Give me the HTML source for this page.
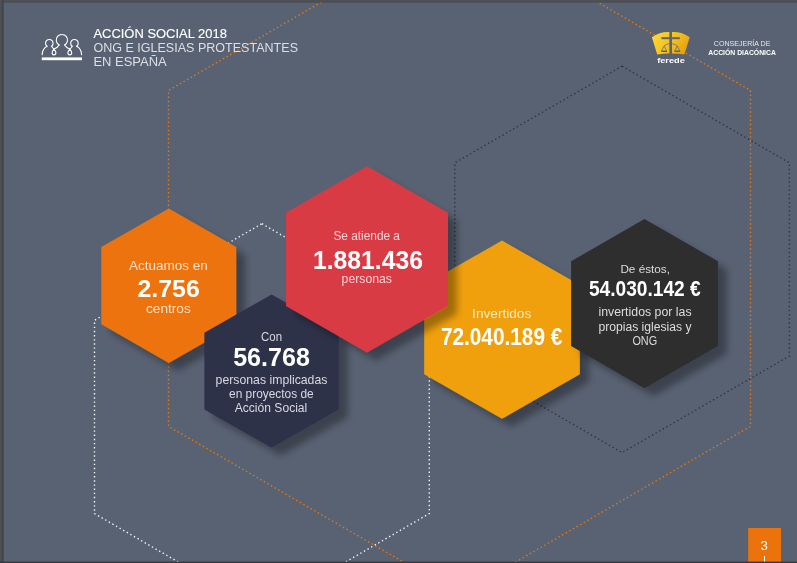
<!DOCTYPE html>
<html lang="es">
<head>
<meta charset="utf-8">
<title>Acción Social 2018</title>
<style>
html,body{margin:0;padding:0;background:#596273;}
body{width:797px;height:563px;overflow:hidden;position:relative;font-family:"Liberation Sans",sans-serif;}
svg{position:absolute;left:0;top:0;display:block;}
text{font-family:"Liberation Sans",sans-serif;}
.b{font-weight:bold;fill:#fff;}
</style>
</head>
<body>
<svg width="797" height="563" viewBox="0 0 797 563">
<defs>
<filter id="sh" x="-20%" y="-20%" width="150%" height="150%">
<feDropShadow dx="9" dy="8" stdDeviation="3.8" flood-color="#000" flood-opacity="0.33"/>
</filter>
<linearGradient id="gold" gradientUnits="userSpaceOnUse" x1="655" y1="32" x2="686" y2="56">
<stop offset="0" stop-color="#fdd835"/><stop offset="0.55" stop-color="#f2bd1c"/><stop offset="1" stop-color="#dd9a10"/>
</linearGradient>
<linearGradient id="tb" x1="0" y1="0" x2="0" y2="1"><stop offset="0" stop-color="#525355"/><stop offset="1" stop-color="#454851"/></linearGradient>
</defs>
<rect x="0" y="0" width="797" height="563" fill="#596273"/>
<polygon points="459.5,-77.6 750.5,90.4 750.5,426.4 459.5,594.4 168.5,426.4 168.5,90.4" fill="none" stroke="#e67a12" stroke-width="1.4" stroke-dasharray="1.4 2.75"/>
<polygon points="622.1,66.2 789.4,162.8 789.4,356.0 622.1,452.6 454.8,356.0 454.8,162.8" fill="none" stroke="#2f3442" stroke-width="1.4" stroke-dasharray="1.4 2.75"/>
<polygon points="261.9,223.7 429.3,320.4 429.3,513.6 261.9,610.3 94.5,513.6 94.5,320.3" fill="none" stroke="#f2f3f5" stroke-width="1.4" stroke-dasharray="1.4 2.75"/>
<g>
<path d="M651.9 37.2 Q659.9 31.5 669.6 32 L669.6 53.5 Q663 53.6 657.2 54.6 Z" fill="url(#gold)"/>
<path d="M689.7 37.2 Q681.7 31.5 672.0 32 L672.0 53.5 Q678.6 53.6 684.4 54.6 Z" fill="url(#gold)"/>
<rect x="669.6" y="31.5" width="2.4" height="22.6" fill="#5b6475"/>
<rect x="661.4" y="37.2" width="18.4" height="2" fill="#5b6475"/>
<path d="M664.1 45.6 Q670.8 41.8 677.3 45.6" fill="none" stroke="#5b6475" stroke-width="0.7"/>
<path d="M661.6 50.8 L664.1 46 L666.6 50.8 M674.8 50.8 L677.3 46 L679.8 50.8" fill="none" stroke="#5b6475" stroke-width="0.7"/>
<path d="M661.2 50.5 h5.8 v1.5 h-5.8 z M674.4 50.5 h5.8 v1.5 h-5.8 z" fill="#5b6475"/>
</g>
<text x="671.0" y="62.8" font-size="8.0" text-anchor="middle" fill="#ffffff" textLength="27.6" lengthAdjust="spacingAndGlyphs" font-weight="bold">ferede</text>
<text x="742.1" y="46.3" font-size="7.8" text-anchor="middle" fill="#e6e8ec" textLength="56.6" lengthAdjust="spacingAndGlyphs">CONSEJERÍA DE</text>
<text x="742.1" y="55.2" font-size="7.8" text-anchor="middle" fill="#ffffff" textLength="67.6" lengthAdjust="spacingAndGlyphs" font-weight="bold">ACCIÓN DIACÓNICA</text>
<polygon points="168.8,208.4 236.2,247.1 236.2,324.3 168.8,363.0 101.3,324.3 101.3,247.0" fill="#ec730b" filter="url(#sh)"/>
<polygon points="271.6,294.4 338.8,332.8 338.8,409.5 271.6,447.8 204.4,409.5 204.4,332.8" fill="#2e3048" filter="url(#sh)"/>
<polygon points="502.0,240.6 579.8,285.1 579.8,374.2 502.0,418.8 424.2,374.2 424.2,285.1" fill="#f0a00c" filter="url(#sh)"/>
<polygon points="367.0,166.2 448.0,212.8 448.0,305.9 367.0,352.5 286.0,305.9 286.0,212.8" fill="#d93b45" filter="url(#sh)"/>
<polygon points="644.5,219.1 717.9,261.3 717.9,345.9 644.5,388.2 571.1,345.9 571.1,261.3" fill="#2d2d2e" filter="url(#sh)"/>
<text x="168.4" y="270.2" font-size="13.4" text-anchor="middle" fill="#fde0c4" textLength="78.8" lengthAdjust="spacingAndGlyphs">Actuamos en</text>
<text x="168.6" y="296.8" font-size="24.6" text-anchor="middle" class="b" textLength="62.4" lengthAdjust="spacingAndGlyphs">2.756</text>
<text x="168.4" y="312.8" font-size="13.4" text-anchor="middle" fill="#fde0c4" textLength="44.8" lengthAdjust="spacingAndGlyphs">centros</text>
<text x="366.7" y="240.4" font-size="12.4" text-anchor="middle" fill="#f9d3d5" textLength="66.5" lengthAdjust="spacingAndGlyphs">Se atiende a</text>
<text x="368" y="268.8" font-size="25.4" text-anchor="middle" class="b" textLength="110" lengthAdjust="spacingAndGlyphs">1.881.436</text>
<text x="366.8" y="283.0" font-size="12.4" text-anchor="middle" fill="#f9d3d5" textLength="50.4" lengthAdjust="spacingAndGlyphs">personas</text>
<text x="271.5" y="341.4" font-size="12.6" text-anchor="middle" fill="#d8d9e2" textLength="21" lengthAdjust="spacingAndGlyphs">Con</text>
<text x="271.5" y="365.9" font-size="25.6" text-anchor="middle" class="b" textLength="76.7" lengthAdjust="spacingAndGlyphs">56.768</text>
<text x="271.5" y="383.9" font-size="12.6" text-anchor="middle" fill="#d8d9e2" textLength="111.8" lengthAdjust="spacingAndGlyphs">personas implicadas</text>
<text x="271.4" y="397.6" font-size="12.6" text-anchor="middle" fill="#d8d9e2" textLength="84.7" lengthAdjust="spacingAndGlyphs">en proyectos de</text>
<text x="271" y="411.7" font-size="12.6" text-anchor="middle" fill="#d8d9e2" textLength="72.6" lengthAdjust="spacingAndGlyphs">Acción Social</text>
<text x="501.7" y="317.7" font-size="13.4" text-anchor="middle" fill="#fdeab8" textLength="59.2" lengthAdjust="spacingAndGlyphs">Invertidos</text>
<text x="501.6" y="344.8" font-size="23.3" text-anchor="middle" class="b" textLength="121.4" lengthAdjust="spacingAndGlyphs">72.040.189 €</text>
<text x="645.2" y="272.8" font-size="11.8" text-anchor="middle" fill="#dcdcdc" textLength="49.6" lengthAdjust="spacingAndGlyphs">De éstos,</text>
<text x="644.8" y="295.9" font-size="21.3" text-anchor="middle" class="b" textLength="111.8" lengthAdjust="spacingAndGlyphs">54.030.142 €</text>
<text x="645" y="316.4" font-size="12.3" text-anchor="middle" fill="#dcdcdc" textLength="93.2" lengthAdjust="spacingAndGlyphs">invertidos por las</text>
<text x="645" y="331.3" font-size="12.3" text-anchor="middle" fill="#dcdcdc" textLength="93.2" lengthAdjust="spacingAndGlyphs">propias iglesias y</text>
<text x="644.8" y="344.9" font-size="12.3" text-anchor="middle" fill="#dcdcdc" textLength="24.8" lengthAdjust="spacingAndGlyphs">ONG</text>
<text x="93.4" y="38.0" font-size="13.5" text-anchor="start" fill="#ffffff" textLength="133.5" lengthAdjust="spacingAndGlyphs" stroke="#fff" stroke-width="0.15">ACCIÓN SOCIAL 2018</text>
<text x="93.4" y="51.8" font-size="13.6" text-anchor="start" fill="#dcdfe5" textLength="204.6" lengthAdjust="spacingAndGlyphs">ONG E IGLESIAS PROTESTANTES</text>
<text x="93.4" y="65.6" font-size="13.6" text-anchor="start" fill="#dcdfe5" textLength="73.4" lengthAdjust="spacingAndGlyphs">EN ESPAÑA</text>
<g fill="none" stroke="#fff" stroke-width="1.1" stroke-linecap="round" stroke-linejoin="round">
<path d="M59.13 45.0 A5.64 5.64 0 1 1 64.63 45.0"/>
<path d="M59.13 45.0 Q57.9 47.4 53.98 49.1"/>
<path d="M64.63 45.0 Q65.86 47.4 69.78 49.1"/>
<path d="M47.05 46.29 A3.77 3.77 0 1 1 51.58 46.29"/>
<path d="M76.71 46.29 A3.77 3.77 0 1 0 72.18 46.29"/>
<path d="M47.05 46.29 C44.5 47.6 42.4 50.6 42.17 54.6"/>
<path d="M76.71 46.29 C79.26 47.6 81.36 50.6 81.59 54.6"/>
<path d="M51.58 46.29 Q52.4 47.9 53.98 49.1"/>
<path d="M72.18 46.29 Q71.36 47.9 69.78 49.1"/>
<path d="M53.98 49.1 C52.6 50.6 52.1 51.6 52.1 52.8 C52.1 54 52.9 54.9 53.98 54.9 C55.1 54.9 55.9 54 55.9 52.8 C55.9 51.6 55.4 50.6 53.98 49.1 Z"/>
<path d="M69.78 49.1 C68.4 50.6 67.9 51.6 67.9 52.8 C67.9 54 68.7 54.9 69.78 54.9 C70.9 54.9 71.7 54 71.7 52.8 C71.7 51.6 71.2 50.6 69.78 49.1 Z"/>
</g>
<rect x="41.8" y="57.4" width="40.15" height="2.8" fill="#fff"/>
<rect x="748.2" y="528" width="32.8" height="35" fill="#ec730b"/>
<text x="764.2" y="549.7" font-size="13.2" text-anchor="middle" fill="#ffffff">3</text>
<rect x="764" y="556" width="1" height="7" fill="#fff"/>
<rect x="0" y="0" width="797" height="2.6" fill="url(#tb)"/>
<rect x="0" y="0" width="3.7" height="563" fill="#42454a"/>
<rect x="0" y="0" width="1.6" height="563" fill="#4f5153"/>
<rect x="0" y="561.6" width="797" height="1.4" fill="#35373c"/>
</svg>
</body>
</html>
